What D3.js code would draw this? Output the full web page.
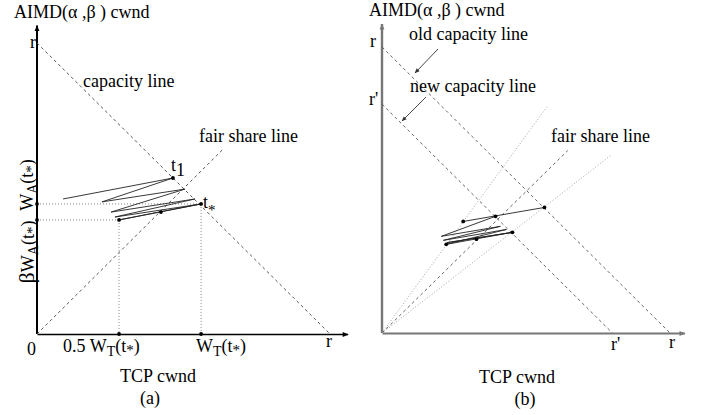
<!DOCTYPE html>
<html>
<head>
<meta charset="utf-8">
<script src="https://cdn.jsdelivr.net/npm/d3@7"></script>
<style>
  body { margin: 0; background: #fff; }
  svg { display: block; }
  text { font-family: "Liberation Serif", "Times New Roman", serif; fill: #000; }
</style>
</head>
<body>
<svg id="chart" width="704" height="415"></svg>
<script>
// ---- Panel (a): AIMD vs TCP phase plane (window sizes in units of r) ----
const capacityLineA = [[0, 1], [1, 0]];
const fairShareLineA = [[0, 0], [0.635, 0.635]];
const trajectoryA = [
  [0.089, 0.464], [0.464, 0.536], [0.222, 0.454], [0.505, 0.498],
  [0.253, 0.419], [0.539, 0.464], [0.266, 0.402], [0.560, 0.447],
  [0.280, 0.392], [0.560, 0.447]
];
const pointT1 = [0.464, 0.536];
const pointTStar = [0.560, 0.447];
const pointHalf = [0.280, 0.392];
const pointFairA = [0.423, 0.419];

// ---- Panel (b): capacity drops from r to r' ----
const rPrime = 0.8;
const oldCapacityB = [[0, 1], [1, 0]];
const newCapacityB = [[0, rPrime], [rPrime, 0]];
const fairShareB = [[0, 0], [0.645, 0.638]];
const steepRayB = [[0, 0], [0.575, 0.794]];
const flatRayB = [[0, 0], [0.798, 0.624]];
const oldPathB = [[0.282, 0.390], [0.564, 0.439]];
const newPathB = [
  [0.394, 0.408], [0.206, 0.338], [0.411, 0.373], [0.213, 0.324],
  [0.432, 0.362], [0.223, 0.310], [0.453, 0.352], [0.226, 0.316],
  [0.453, 0.352]
];
const dotsB = [[0.282, 0.390], [0.394, 0.408], [0.564, 0.439],
               [0.453, 0.352], [0.328, 0.328], [0.223, 0.310]];

const svg = d3.select("#chart");

// arrowheads for the axes
const defs = svg.append("defs");
function arrow(id, color) {
  defs.append("marker").attr("id", id)
    .attr("viewBox", "0 0 10 10").attr("refX", 9).attr("refY", 5)
    .attr("markerWidth", 9).attr("markerHeight", 6)
    .attr("markerUnits", "userSpaceOnUse").attr("orient", "auto")
    .append("path").attr("d", "M0,1 L10,5 L0,9 Z").attr("fill", color);
}
arrow("arrA", "#000");
arrow("arrB", "#777");

// ---------------- Panel (a) ----------------
const xA = d3.scaleLinear().domain([0, 1]).range([37, 330]);
const yA = d3.scaleLinear().domain([0, 1]).range([334, 43]);
const gA = svg.append("g");
const lineA = d3.line().x(d => xA(d[0])).y(d => yA(d[1]));

// axes
const axXA = gA.append("g").attr("transform", `translate(0,${yA(0)})`)
  .call(d3.axisBottom(d3.scaleLinear().domain([0, 1.06]).range([xA(0), xA(1.06)]))
    .tickValues([]).tickSizeOuter(0));
axXA.select(".domain").attr("stroke", "#000").attr("stroke-width", 1.6)
  .attr("marker-end", "url(#arrA)");
const axYA = gA.append("g").attr("transform", `translate(${xA(0)},0)`)
  .call(d3.axisLeft(d3.scaleLinear().domain([0, 1.06]).range([yA(0), yA(1.06)]))
    .tickValues([]).tickSizeOuter(0));
axYA.select(".domain").attr("stroke", "#000").attr("stroke-width", 2)
  .attr("d", `M0,${yA(0)}V${yA(1.06)}`).attr("marker-end", "url(#arrA)");

// capacity & fair share lines
gA.append("path").attr("d", lineA(capacityLineA)).attr("fill", "none")
  .attr("stroke", "#444").attr("stroke-width", 0.9).attr("stroke-dasharray", "3,3");
gA.append("path").attr("d", lineA(fairShareLineA)).attr("fill", "none")
  .attr("stroke", "#444").attr("stroke-width", 0.9).attr("stroke-dasharray", "3,3");

// guide lines to the axes
const guidesA = [
  [[0, pointTStar[1]], pointTStar], [[0, pointHalf[1]], pointHalf],
  [pointTStar, [pointTStar[0], 0]], [pointHalf, [pointHalf[0], 0]]
];
guidesA.forEach(g => gA.append("path").attr("d", lineA(g)).attr("fill", "none")
  .attr("stroke", "#888").attr("stroke-width", 1).attr("stroke-dasharray", "1,2"));

// trajectory
gA.append("path").attr("d", lineA(trajectoryA)).attr("fill", "none")
  .attr("stroke", "#222").attr("stroke-width", 0.9);

const dotsA = [pointT1, pointTStar, pointHalf, pointFairA,
  [0, pointTStar[1]], [0, pointHalf[1]], [pointHalf[0], 0], [pointTStar[0], 0]];
gA.selectAll("circle.d").data(dotsA).join("circle")
  .attr("cx", d => xA(d[0])).attr("cy", d => yA(d[1])).attr("r", 1.9).attr("fill", "#000");

// labels (a)
function txt(g, x, y, s, size, anchor) {
  return g.append("text").attr("x", x).attr("y", y).attr("font-size", size || 18)
    .attr("text-anchor", anchor || "start").text(s);
}
const titleA = gA.append("text").attr("x", 14).attr("y", 18).attr("font-size", 18);
titleA.append("tspan").text("AIMD(");
titleA.append("tspan").text("α ,β ) cwnd");
txt(gA, 30, 48, "r");
txt(gA, 83, 87, "capacity line");
txt(gA, 199, 142, "fair share line");

const t1 = gA.append("text").attr("x", 171).attr("y", 171).attr("font-size", 18);
t1.append("tspan").text("t");
t1.append("tspan").attr("dy", 5).text("1");
const ts = gA.append("text").attr("x", 203).attr("y", 208).attr("font-size", 18);
ts.append("tspan").text("t");
ts.append("tspan").attr("dy", 7).attr("font-size", 15).text("*");

txt(gA, 27, 355, "0");
function wt(g, x, y, prefix) {
  const t = g.append("text").attr("x", x).attr("y", y).attr("font-size", 18);
  if (prefix) t.append("tspan").text(prefix);
  t.append("tspan").text("W");
  t.append("tspan").attr("dy", 4).attr("font-size", 14).text("T");
  t.append("tspan").attr("dy", -4).text("(t");
  t.append("tspan").attr("dy", 3).attr("font-size", 15).text("*");
  t.append("tspan").attr("dy", -3).text(")");
  return t;
}
wt(gA, 63, 352, "0.5  ");
wt(gA, 196, 352, null);
txt(gA, 326, 347, "r");
txt(gA, 158, 382, "TCP cwnd", 18, "middle");
txt(gA, 150, 404, "(a)", 18, "middle");

// rotated y labels
function wa(g, cx, cy, beta) {
  const t = g.append("text").attr("transform", `translate(${cx},${cy}) rotate(-90)`)
    .attr("text-anchor", "middle").attr("font-size", 18);
  if (beta) t.append("tspan").attr("font-size", 22).text("β");
  t.append("tspan").text("W");
  t.append("tspan").attr("dy", 4).attr("font-size", 14).text("A");
  t.append("tspan").attr("dy", -4).text("(t");
  t.append("tspan").attr("dy", 3).attr("font-size", 15).text("*");
  t.append("tspan").attr("dy", -3).text(")");
}
wa(gA, 33, 185, false);
wa(gA, 34, 252, true);

// ---------------- Panel (b) ----------------
const xB = d3.scaleLinear().domain([0, 1]).range([382, 670]);
const yB = d3.scaleLinear().domain([0, 1]).range([333, 47]);
const gB = svg.append("g");
const lineB = d3.line().x(d => xB(d[0])).y(d => yB(d[1]));

const axXB = gB.append("g").attr("transform", `translate(0,${yB(0)})`)
  .call(d3.axisBottom(d3.scaleLinear().domain([0, 1.05]).range([xB(0), xB(1.05)]))
    .tickValues([]).tickSizeOuter(0));
axXB.select(".domain").attr("stroke", "#777").attr("stroke-width", 2.2)
  .attr("marker-end", "url(#arrB)");
const axYB = gB.append("g").attr("transform", `translate(${xB(0)},0)`)
  .call(d3.axisLeft(d3.scaleLinear().domain([0, 1.08]).range([yB(0), yB(1.08)]))
    .tickValues([]).tickSizeOuter(0));
axYB.select(".domain").attr("stroke", "#777").attr("stroke-width", 2.4)
  .attr("d", `M0,${yB(0)}V${yB(1.08)}`).attr("marker-end", "url(#arrB)");

[oldCapacityB, newCapacityB, fairShareB].forEach(l =>
  gB.append("path").attr("d", lineB(l)).attr("fill", "none")
    .attr("stroke", "#555").attr("stroke-width", 0.9).attr("stroke-dasharray", "3,3"));
[steepRayB, flatRayB].forEach(l =>
  gB.append("path").attr("d", lineB(l)).attr("fill", "none")
    .attr("stroke", "#999").attr("stroke-width", 0.9).attr("stroke-dasharray", "1,2"));

gB.append("path").attr("d", lineB(oldPathB)).attr("fill", "none")
  .attr("stroke", "#222").attr("stroke-width", 0.9);
gB.append("path").attr("d", lineB(newPathB)).attr("fill", "none")
  .attr("stroke", "#222").attr("stroke-width", 0.9);
gB.selectAll("circle.d").data(dotsB).join("circle")
  .attr("cx", d => xB(d[0])).attr("cy", d => yB(d[1])).attr("r", 1.9).attr("fill", "#000");

// pointer arrows for the capacity line captions
defs.append("marker").attr("id", "ptr")
  .attr("viewBox", "0 0 10 10").attr("refX", 9).attr("refY", 5)
  .attr("markerWidth", 7).attr("markerHeight", 5)
  .attr("markerUnits", "userSpaceOnUse").attr("orient", "auto")
  .append("path").attr("d", "M0,1 L10,5 L0,9 Z").attr("fill", "#333");
gB.append("line").attr("x1", 438).attr("y1", 49).attr("x2", 415).attr("y2", 73)
  .attr("stroke", "#333").attr("stroke-width", 0.9).attr("marker-end", "url(#ptr)");
gB.append("line").attr("x1", 426).attr("y1", 97).attr("x2", 402).attr("y2", 121)
  .attr("stroke", "#333").attr("stroke-width", 0.9).attr("marker-end", "url(#ptr)");

const titleB = gB.append("text").attr("x", 369).attr("y", 16).attr("font-size", 18);
titleB.append("tspan").text("AIMD(");
titleB.append("tspan").text("α ,β ) cwnd");
txt(gB, 370, 47, "r");
txt(gB, 369, 105, "r'");
txt(gB, 409, 40, "old capacity line");
txt(gB, 410, 92, "new capacity line");
txt(gB, 551, 142, "fair share line");
txt(gB, 611, 350, "r'");
txt(gB, 669, 348, "r");
txt(gB, 517, 383, "TCP cwnd", 18, "middle");
txt(gB, 525, 405, "(b)", 18, "middle");
</script>
</body>
</html>
